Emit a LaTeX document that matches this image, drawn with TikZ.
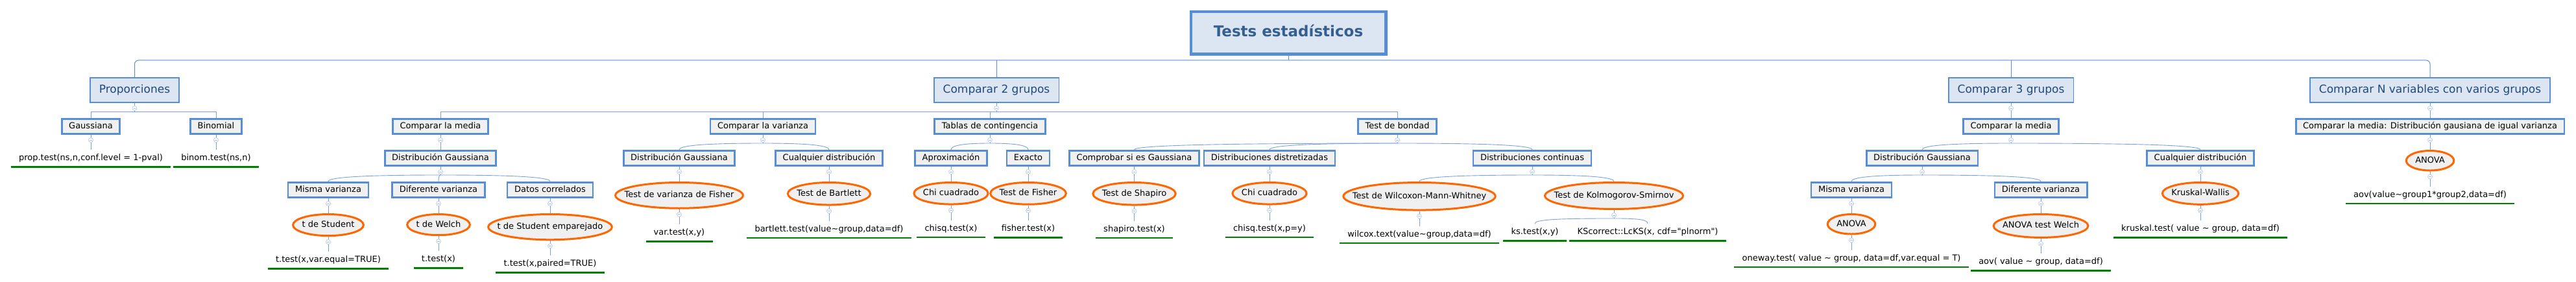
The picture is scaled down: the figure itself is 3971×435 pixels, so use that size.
\documentclass[tikz,border=0pt]{standalone}
\usepackage{fontspec}
\setmainfont{DejaVu Sans}
\setmonofont{DejaVu Sans}
\usetikzlibrary{positioning,calc,shapes.geometric}

\definecolor{boxblue}{RGB}{85,142,213}
\definecolor{topfill}{RGB}{220,230,242}
\definecolor{boxfill}{RGB}{240,240,240}
\definecolor{toptext}{RGB}{31,73,125}
\definecolor{roottext}{RGB}{54,95,145}
\definecolor{testorange}{RGB}{255,102,0}
\definecolor{codegreen}{RGB}{0,128,0}
\definecolor{linkc}{RGB}{120,160,222}
\definecolor{foldc}{RGB}{170,195,236}

\newcommand\smallfnt{\fontsize{13pt}{15pt}\selectfont}
\newcommand\midfnt{\fontsize{17pt}{20pt}\selectfont}
\newcommand\bigfnt{\fontsize{23pt}{27pt}\selectfont\bfseries}

\tikzset{
  rootbox/.style={draw=boxblue,line width=4.5pt,fill=topfill,text=roottext,font=\bigfnt,
    inner xsep=35pt,inner ysep=0pt,minimum height=65.5pt,text height=17pt,text depth=5pt},
  topbox/.style={draw=boxblue,line width=1.7pt,fill=topfill,text=toptext,font=\midfnt,
    inner xsep=14pt,inner ysep=0pt,minimum height=38.3pt,text height=13pt,text depth=4pt},
  box/.style={draw=boxblue,line width=2.7pt,fill=boxfill,font=\smallfnt,
    inner xsep=11pt,inner ysep=0pt,minimum height=23.3pt,text height=10pt,text depth=3pt},
  tst/.style={ellipse,draw=testorange,line width=3pt,fill=boxfill,font=\smallfnt,
    inner sep=0pt,text height=10pt,text depth=3pt},
  tstgauge/.style={font=\smallfnt,inner sep=0pt,outer sep=0pt},
  rcode/.style={font=\smallfnt\ttfamily,inner xsep=12pt,inner ysep=0pt,minimum height=26pt,
    text height=10pt,text depth=3pt},
  uline/.style={draw=codegreen,line width=2.8pt},
  link/.style={draw=linkc,line width=0.9pt},
  rootlink/.style={draw=boxblue,line width=1pt,rounded corners=6pt},
  fold/.style={circle,draw=foldc,fill=white,line width=0.6pt,inner sep=0pt,minimum size=7pt,
    path picture={\draw[foldc,line width=0.6pt] ([xshift=-1.8pt]path picture bounding box.center)
      -- ([xshift=1.8pt]path picture bounding box.center);}},
  twig/.style={to path={.. controls ($(\tikztostart)!.75!(\tikztotarget|-\tikztostart)$)
      and ([yshift=6pt]\tikztotarget) .. (\tikztotarget)}}
}

% ellipse sized to its text
\newcommand\testnode[3]{%
  \node[tstgauge] (#2-g) at (0,0) {\phantom{#3}};
  \path let \p1=($(#2-g.east)-(#2-g.west)$), \n1={\x1+28}, \n2={25+0.075*\n1} in
    node[tst,#1,minimum width=\n1,minimum height=\n2] (#2) {\makebox[0pt]{#3}};}

\begin{document}
\begin{tikzpicture}[x=1pt,y=-1pt]
\useasboundingbox (0,0) rectangle (3971,435);

% main topics
\node[rootbox,anchor=north] (root) at (1986,16) {Tests estadísticos};
\node[topbox,anchor=north] (pro) at (207.5,119) {Proporciones};
\node[topbox,anchor=north] (c2) at (1536,119) {Comparar 2 grupos};
\node[topbox,anchor=north] (c3) at (3100,119) {Comparar 3 grupos};
\node[topbox,anchor=north] (cn) at (3746,119) {Comparar N variables con varios grupos};

% proporciones
\node[box,anchor=north] (gau) at (140,182) {Gaussiana};
\node[box,anchor=north] (bin) at (333,182) {Binomial};
\node[rcode,below=23pt of gau] (propt) {prop.test(ns,n,conf.level = 1-pval)};
\node[rcode,below=23pt of bin] (binomt) {binom.test(ns,n)};

% comparar 2 grupos: media
\node[box,anchor=north] (c2m) at (679,182) {Comparar la media};
\node[box,below=23pt of c2m] (mdg) {Distribución Gaussiana};
\node[box,anchor=north] (mmv) at (506,280) {Misma varianza};
\node[box,anchor=north] (mdv) at (676,280) {Diferente varianza};
\node[box,anchor=north] (mdc) at (848,280) {Datos correlados};
\testnode{below=23pt of mmv}{stu}{t de Student}
\testnode{below=23pt of mdv}{wel}{t de Welch}
\testnode{below=23pt of mdc}{emp}{t de Student emparejado}
\node[rcode,below=23pt of stu] (stut) {t.test(x,var.equal=TRUE)};
\node[rcode,below=23pt of wel] (welt) {t.test(x)};
\node[rcode,below=23pt of emp] (empt) {t.test(x,paired=TRUE)};

% comparar 2 grupos: varianza
\node[box,anchor=north] (c2v) at (1176,182) {Comparar la varianza};
\node[box,anchor=north] (vdg) at (1047,231) {Distribución Gaussiana};
\node[box,anchor=north] (vcd) at (1278,231) {Cualquier distribución};
\testnode{below=23pt of vdg}{fish}{Test de varianza de Fisher}
\testnode{below=23pt of vcd}{bart}{Test de Bartlett}
\node[rcode,below=23pt of fish] (vart) {var.test(x,y)};
\node[rcode,below=23pt of bart] (bartt) {bartlett.test(value\textasciitilde group,data=df)};

% tablas de contingencia
\node[box,anchor=north] (c2t) at (1526,182) {Tablas de contingencia};
\node[box,anchor=north] (apr) at (1466,231) {Aproximación};
\node[box,anchor=north] (exa) at (1585,231) {Exacto};
\testnode{below=23pt of apr}{chi}{Chi cuadrado}
\testnode{below=23pt of exa}{fis}{Test de Fisher}
\node[rcode,below=23pt of chi] (chit) {chisq.test(x)};
\node[rcode,below=23pt of fis] (fist) {fisher.test(x)};

% test de bondad
\node[box,anchor=north] (c2b) at (2154,182) {Test de bondad};
\node[box,anchor=north] (bsh) at (1748.5,231) {Comprobar si es Gaussiana};
\node[box,anchor=north] (bdd) at (1957,231) {Distribuciones distretizadas};
\node[box,anchor=north] (bdc) at (2362,231) {Distribuciones continuas};
\testnode{below=23pt of bsh}{shap}{Test de Shapiro}
\testnode{below=23pt of bdd}{chi2}{Chi cuadrado}
\testnode{anchor=north,at={(2188,280)}}{wil}{Test de Wilcoxon-Mann-Whitney}
\testnode{anchor=north,at={(2488,280)}}{ks}{Test de Kolmogorov-Smirnov}
\node[rcode,below=23pt of shap] (shat) {shapiro.test(x)};
\node[rcode,below=23pt of chi2] (chit2) {chisq.test(x,p=y)};
\node[rcode,below=23pt of wil] (wilt) {wilcox.text(value\textasciitilde group,data=df)};
\node[rcode,anchor=north] (kst) at (2366,345) {ks.test(x,y)};
\node[rcode,anchor=north] (ksc) at (2540,345) {KScorrect::LcKS(x, cdf="plnorm")};

% comparar 3 grupos
\node[box,below=23pt of c3] (c3m) {Comparar la media};
\node[box,anchor=north] (mdg3) at (2963,231) {Distribución Gaussiana};
\node[box,anchor=north] (mcd3) at (3392,231) {Cualquier distribución};
\node[box,anchor=north] (mv3) at (2854,280) {Misma varianza};
\node[box,anchor=north] (dv3) at (3146,280) {Diferente varianza};
\testnode{below=23pt of mv3}{an3}{ANOVA}
\testnode{below=23pt of dv3}{anw}{ANOVA test Welch}
\testnode{below=23pt of mcd3}{kru}{Kruskal-Wallis}
\node[rcode,below=23pt of an3] (onew) {oneway.test( value \textasciitilde\ group, data=df,var.equal = T)};
\node[rcode,below=23pt of anw] (aovw) {aov( value \textasciitilde\ group, data=df)};
\node[rcode,below=23pt of kru] (krut) {kruskal.test( value \textasciitilde\ group, data=df)};

% comparar N variables
\node[box,below=23pt of cn] (cnm) {Comparar la media: Distribución gausiana de igual varianza};
\testnode{below=23pt of cnm}{anovan}{ANOVA}
\node[rcode,below=23pt of anovan] (aovn) {aov(value\textasciitilde group1*group2,data=df)};

% branches
\coordinate (jroot) at ([yshift=-7pt]root.south);
\draw[rootlink] (root.south) -- (jroot);
\draw[rootlink] (pro.north) |- (jroot) -| (cn.north);
\foreach \c in {c2,c3} \draw[rootlink] (jroot -| \c.north) -- (\c.north);

\foreach \p in {pro,c2} {
  \coordinate (j\p) at ([yshift=-13pt]\p.south);
  \draw[link] (\p.south) -- (j\p);
}
\foreach \c in {gau,bin} \draw[link] (jpro) -| (\c.north);
\foreach \c in {c2m,c2v,c2t,c2b} \draw[link] (jc2) -| (\c.north);

\foreach \p/\kids in {c2v/{vdg,vcd},c2t/{apr,exa},c2b/{bsh,bdd,bdc},c3m/{mdg3,mcd3},
    mdg/{mmv,mdv,mdc},bdc/{wil,ks},mdg3/{mv3,dv3},ks/{kst,ksc}} {
  \coordinate (j\p) at ([yshift=-13pt]\p.south);
  \draw[link] (\p.south) -- (j\p);
  \foreach \c in \kids \draw[link] (j\p) to[twig] (\c.north);
}

\foreach \p/\c in {gau/propt,bin/binomt,c2m/mdg,vdg/fish,vcd/bart,apr/chi,exa/fis,bsh/shap,
    bdd/chi2,mmv/stu,mdv/wel,mdc/emp,stu/stut,wel/welt,emp/empt,fish/vart,bart/bartt,
    chi/chit,fis/fist,shap/shat,chi2/chit2,wil/wilt,c3/c3m,mv3/an3,dv3/anw,an3/onew,
    anw/aovw,mcd3/kru,kru/krut,cn/cnm,cnm/anovan,anovan/aovn}
  \draw[link] (\p.south) -- (\c.north);

% green underlines under the R calls
\foreach \n in {propt,binomt,stut,welt,empt,vart,bartt,chit,fist,shat,chit2,wilt,kst,ksc,
    onew,aovw,krut,aovn}
  \draw[uline] (\n.south west) -- (\n.south east);

% collapse marks
\foreach \p in {pro,c2,c3,cn,gau,bin,c2m,c2v,c2t,c2b,c3m,cnm,mdg,vdg,vcd,apr,exa,bsh,bdd,bdc,
    mdg3,mcd3,anovan,mmv,mdv,mdc,fish,bart,chi,fis,shap,chi2,wil,ks,mv3,dv3,kru,stu,wel,emp,an3,anw}
  \node[fold] at ([yshift=-8pt]\p.south) {};
\end{tikzpicture}
\end{document}
